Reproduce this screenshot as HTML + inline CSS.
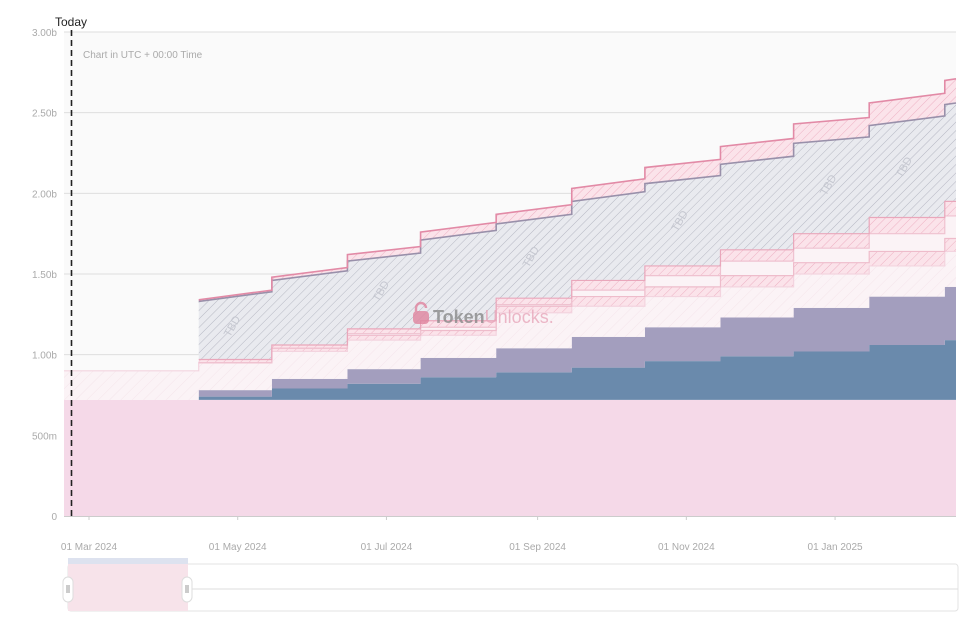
<!DOCTYPE html>
<html><head><meta charset="utf-8"><style>
body{margin:0;background:#fff;font-family:"Liberation Sans",sans-serif;}
svg{display:block}
</style></head><body>
<svg id="chart" width="975" height="617" xmlns="http://www.w3.org/2000/svg">
<defs>
<pattern id="hGrey" width="6" height="6" patternUnits="userSpaceOnUse" patternTransform="rotate(45)"><rect width="6" height="6" fill="#e9eaef"/><line x1="0" y1="0" x2="0" y2="6" stroke="#a9acb8" stroke-width="0.8"/></pattern>
<pattern id="hPink" width="6" height="6" patternUnits="userSpaceOnUse" patternTransform="rotate(45)"><rect width="6" height="6" fill="#fbe3ea"/><line x1="0" y1="0" x2="0" y2="6" stroke="#eaa5b9" stroke-width="0.8"/></pattern>
<pattern id="hLight" width="8" height="8" patternUnits="userSpaceOnUse" patternTransform="rotate(45)"><rect width="8" height="8" fill="#fbf3f6"/><line x1="0" y1="0" x2="0" y2="8" stroke="#f3e0e7" stroke-width="0.7"/></pattern>
</defs>
<rect x="64" y="32" width="892" height="484" fill="#fafafa"/>
<g id="grid"></g>
<g id="layers"></g>
<g id="lines"></g>
<g id="tbd"></g>
<text x="83" y="58" font-size="10" fill="#aaa">Chart in UTC + 00:00 Time</text>
<g opacity="0.8">
<path d="M416 312 v-4 a5 5 0 0 1 10 0" fill="none" stroke="#e0849f" stroke-width="2.4"/>
<rect x="413" y="311" width="16" height="13" rx="4" fill="#e0849f"/>
<text x="433" y="323" font-size="18" fill="#8a8a8a" font-weight="bold">Token<tspan fill="#e8a7bb" font-weight="normal">Unlocks.</tspan></text>
</g>
<g id="axes"></g>
<line x1="71.5" y1="30" x2="71.5" y2="516" stroke="#222" stroke-width="1.6" stroke-dasharray="6,4"/>
<text x="55" y="26" font-size="12" fill="#222">Today</text>
<g>
<rect x="68" y="564" width="890" height="47" rx="3" fill="#fff" stroke="#e3e3e3"/>
<line x1="68" y1="589" x2="958" y2="589" stroke="#ddd"/>
<rect x="68" y="564" width="120" height="47" fill="#f7e3ea"/>
<rect x="68" y="558" width="120" height="6" fill="#dde2ef"/>
<rect x="63" y="577" width="10" height="25" rx="5" fill="#fff" stroke="#ddd"/>
<rect x="182" y="577" width="10" height="25" rx="5" fill="#fff" stroke="#ddd"/>
<line x1="67" y1="585" x2="67" y2="593" stroke="#999"/><line x1="69" y1="585" x2="69" y2="593" stroke="#999"/>
<line x1="186" y1="585" x2="186" y2="593" stroke="#999"/><line x1="188" y1="585" x2="188" y2="593" stroke="#999"/>
</g>
</svg>
<script>
// segment start days (days from 01 Mar 2024); first is chart start
const segStartDays = [-10.25, 45, 75, 106, 136, 167, 198, 228, 259, 289, 320, 351];
const endDay = 355.6;
const baseValue = 0.72;
const blueValues   = [0, .02,.07,.10,.14,.17,.20,.24,.27,.30,.34,.37];
const purpleValues = [0, .04,.06,.09,.12,.15,.19,.21,.24,.27,.30,.33];
const lightValues  = [.18,.17,.17,.18,.14,.22,.19,.19,.19,.21,.19,.22];
const band2Values  = [0, 0,.02,.03,.03,.04,.06,.06,.07,.07,.09,.08];
const gapValues    = [0, 0,0,.01,.02,.01,.04,.07,.09,.09,.11,.14];
const band1Values  = [0, .02,.02,.03,.04,.04,.06,.06,.07,.09,.10,.09];
const greyStart    = [0, .36,.40,.42,.50,.46,.49,.51,.53,.56,.57,.60];
const greyEnd      = [0, .42,.46,.47,.56,.52,.55,.56,.58,.60,.63,.61];
const pinkTopValues= [0, .01,.02,.04,.05,.06,.08,.10,.11,.12,.14,.15];
const yTicks = [0,0.5,1,1.5,2,2.5,3];
const yTickLabels = ["0","500m","1.00b","1.50b","2.00b","2.50b","3.00b"];
const xTickDays = [0,61,122,184,245,306];
const xTickLabels = ["01 Mar 2024","01 May 2024","01 Jul 2024","01 Sep 2024","01 Nov 2024","01 Jan 2025"];

const NS="http://www.w3.org/2000/svg";
const X0=64,X1=956,Y0=516,Y1=32;
const xS=d=>X0+(d-segStartDays[0])/(endDay-segStartDays[0])*(X1-X0);
const yS=v=>Y0-v/3*(Y0-Y1);
function mk(tag,attrs,parent){const e=document.createElementNS(NS,tag);for(const k in attrs)e.setAttribute(k,attrs[k]);parent.appendChild(e);return e;}
const n=segStartDays.length;
const segX=i=>[xS(segStartDays[i]), xS(i+1<n?segStartDays[i+1]:endDay)];

const grid=document.getElementById('grid'), axes=document.getElementById('axes');
yTicks.forEach((t,i)=>{
  const y=yS(t);
  const g=mk('line',{x1:X0,x2:X1,y1:y,y2:y,stroke:'#dedede'},grid);
  
  
  const tx=mk('text',{x:57,y:y+4,'font-size':10,fill:'#aaa','text-anchor':'end'},axes);
  tx.textContent=yTickLabels[i];
  
  
});
mk('line',{x1:X0,x2:X1,y1:Y0+0.5,y2:Y0+0.5,stroke:'#ccc'},axes);
xTickDays.forEach((d,i)=>{
  const x=xS(d);
  mk('line',{x1:x,x2:x,y1:Y0,y2:Y0+4,stroke:'#ccc'},axes);
  const tx=mk('text',{x:x,y:550,'font-size':10,fill:'#aaa','text-anchor':'middle'},axes);
  tx.textContent=xTickLabels[i];
  
  
});

const stack=[];
const cur=new Array(n).fill(0).map(()=>[0,0]);
function addLayer(name,fill,startArr,endArr){
  const segs=[];
  for(let i=0;i<n;i++){
    const bs=cur[i][0],be=cur[i][1];
    const ts=bs+startArr[i], te=be+(endArr?endArr[i]:startArr[i]);
    segs.push([bs,be,ts,te]); cur[i]=[ts,te];
  }
  stack.push({name,fill,segs});
}
const baseArr=new Array(n).fill(baseValue);
addLayer('base-allocation','#f5d9e8',baseArr);
addLayer('blue-unlocks','#6a8aac',blueValues);
addLayer('purple-unlocks','#a39ebe',purpleValues);
addLayer('light-pink-tbd','url(#hLight)',lightValues);
addLayer('pink-band-2','url(#hPink)',band2Values);
addLayer('light-gap','#fbf3f6',gapValues);
addLayer('pink-band-1','url(#hPink)',band1Values);
addLayer('grey-tbd','url(#hGrey)',greyStart,greyEnd);
addLayer('pink-top-band','url(#hPink)',pinkTopValues);

const lg=document.getElementById('layers'), ln=document.getElementById('lines');
const strokes={'pink-band-2':'#eebccb','light-gap':'#efc2d0','pink-band-1':'#e9a7bb','grey-tbd':'#9990aa','pink-top-band':'#e28aa6','light-pink-tbd':'#f3d4df'};
stack.forEach(L=>{
  let top='',bot=[];
  for(let i=0;i<n;i++){
    const [xa,xb]=segX(i);const s=L.segs[i];
    top+=(i?'L':'M')+xa+','+yS(s[2])+'L'+xb+','+yS(s[3]);
    bot.unshift('L'+xb+','+yS(s[1])+'L'+xa+','+yS(s[0]));
  }
  const p=mk('path',{d:top+bot.join('')+'Z',fill:L.fill},lg);
  
  
  if(strokes[L.name]){
    let d='';const st=L.name==='light-pink-tbd'?0:1;
    for(let i=st;i<n;i++){const [xa,xb]=segX(i);const s=L.segs[i];
      d+=(i===st?'M':'L')+xa+','+yS(s[2])+'L'+xb+','+yS(s[3]);}
    const l=mk('path',{d:d,fill:'none',stroke:strokes[L.name],'stroke-width':L.name==='grey-tbd'||L.name==='pink-top-band'?1.6:1.2},ln);
    
    
  }
});
const tg=document.getElementById('tbd');
const greyL=stack[7];
[1,3,5,7,9,10].forEach(i=>{
  const [xa,xb]=segX(i);const s=greyL.segs[i];
  const x=(xa+xb)/2, y=(yS((s[0]+s[1])/2)+yS((s[2]+s[3])/2))/2;
  const t=mk('text',{x:x,y:y,'font-size':11,fill:'#c5c7d0','text-anchor':'middle',transform:`rotate(-60 ${x} ${y})`},tg);
  t.textContent='TBD';
  
  
});
</script>
</body></html>
